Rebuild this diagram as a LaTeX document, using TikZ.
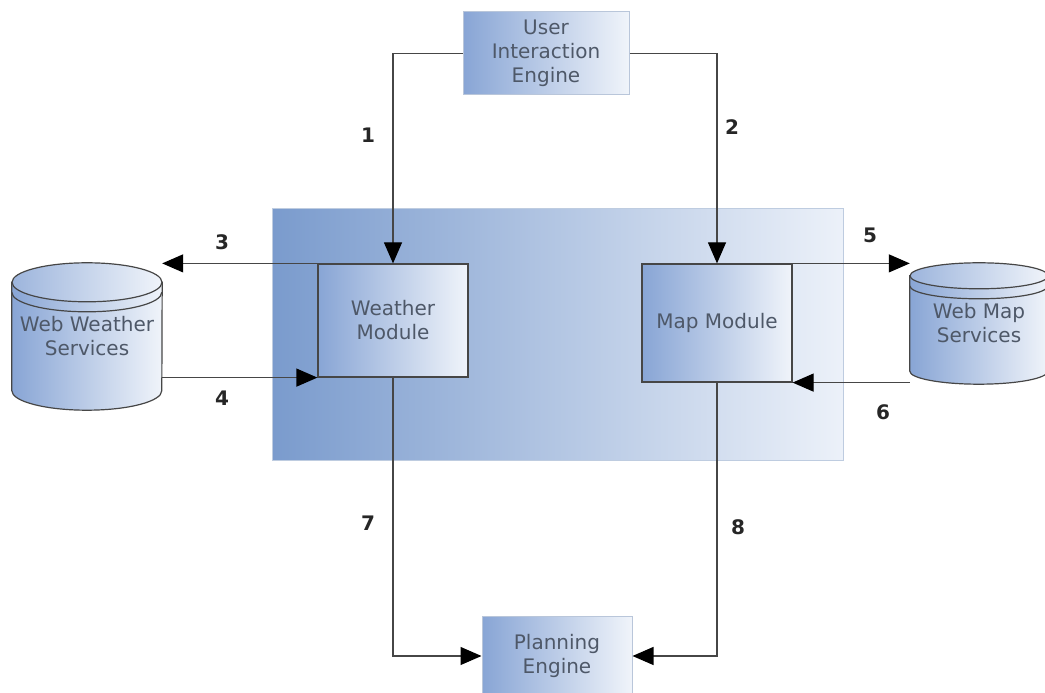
\documentclass[tikz,border=0pt]{standalone}
\usepackage{fontspec}
\setmainfont{DejaVu Sans}
\usetikzlibrary{arrows.meta, calc, backgrounds}

\definecolor{boxdark}{RGB}{136,165,213}
\definecolor{boxlight}{RGB}{240,244,250}
\definecolor{panelleft}{RGB}{122,155,205}
\definecolor{panelright}{RGB}{236,241,249}
\definecolor{panelline}{RGB}{190,204,224}
\definecolor{textgray}{RGB}{78,88,104}
\definecolor{wire}{RGB}{70,70,70}
\definecolor{engineline}{RGB}{185,198,218}

\begin{document}
\begin{tikzpicture}[
  x=1pt, y=1pt,
  every node/.style={align=center, font=\fontsize{20}{24}\selectfont, text=textgray},
  module/.style={draw=wire, line width=1.2pt, left color=boxdark, right color=boxlight, inner sep=0pt, minimum width=150},
  engine/.style={draw=engineline, line width=1pt, left color=boxdark, right color=boxlight, inner sep=0pt},
  store/.style={inner sep=0pt},
  num/.style={font=\bfseries\fontsize{20}{22}\selectfont, text=black!85},
  wireline/.style={draw=wire, line width=1.2pt},
  arrow/.style={-{Triangle[length=21pt, width=18pt, color=black]}, wireline}
]
\useasboundingbox (0,0) rectangle (1045,693);

% Nodes
\node[draw=panelline, line width=1pt, left color=panelleft, right color=panelright,
      minimum width=571, minimum height=252] (core) at (557.5,358) {};
\node[engine, minimum width=166, minimum height=83] (uie) at (546,639.5) {User\\Interaction\\Engine};
\node[module, minimum height=113] (weather) at (393,372.5) {Weather\\Module};
\node[module, minimum height=118] (map) at (717,370) {Map Module};
\node[engine, minimum width=150, minimum height=78] (planning) at (557,37) {Planning\\Engine};
\node[store, minimum width=150, minimum height=147] (wws) at (87,356.5) {Web Weather\\Services};
\node[store, minimum width=138, minimum height=121] (wms) at (979,369.5) {Web Map\\Services};

% Cylinders
\begin{scope}[on background layer]
  \path[wireline, left color=boxdark, right color=boxlight]
    ($(wws.north west)+(0,-19.5)$) -- ($(wws.south west)+(0,19.5)$)
    arc[start angle=180, end angle=360, x radius=75, y radius=19.5]
    -- ($(wws.north east)+(0,-19.5)$) -- cycle;
  \path[wireline, left color=boxdark!80!boxlight, right color=boxlight]
    ($(wws.north)+(0,-19.5)$) ellipse[x radius=75, y radius=19.5];
  \draw[wireline] ($(wws.north west)+(0,-29.5)$)
    arc[start angle=180, end angle=360, x radius=75, y radius=19.5];
  \path[wireline, left color=boxdark, right color=boxlight]
    ($(wms.north west)+(0,-13)$) -- ($(wms.south west)+(0,13)$)
    arc[start angle=180, end angle=360, x radius=69, y radius=13]
    -- ($(wms.north east)+(0,-13)$) -- cycle;
  \path[wireline, left color=boxdark!80!boxlight, right color=boxlight]
    ($(wms.north)+(0,-13)$) ellipse[x radius=69, y radius=13];
  \draw[wireline] ($(wms.north west)+(0,-23)$)
    arc[start angle=180, end angle=360, x radius=69, y radius=13];
\end{scope}

% Labels
\node[num] (n1) at (368,558) {1};
\node[num] (n2) at (732,566) {2};
\node[num] (n3) at (222,451) {3};
\node[num] (n4) at (222,295) {4};
\node[num] (n5) at (870,458) {5};
\node[num] (n6) at (883,281) {6};
\node[num] (n7) at (368,170) {7};
\node[num] (n8) at (738,166) {8};

% Arrows
\draw[arrow] (uie.west) -| (weather.north);
\draw[arrow] (uie.east) -| (map.north);
\draw[arrow] (weather.north west) -- (weather.north west -| wws.east);
\draw[arrow] (wws.east |- weather.south west) -- (weather.south west);
\draw[arrow] (map.north east) -- (map.north east -| wms.west);
\draw[arrow] (wms.west |- map.south east) -- (map.south east);
\draw[arrow] (weather.south) |- (planning.west);
\draw[arrow] (map.south) |- (planning.east);

\end{tikzpicture}
\end{document}
